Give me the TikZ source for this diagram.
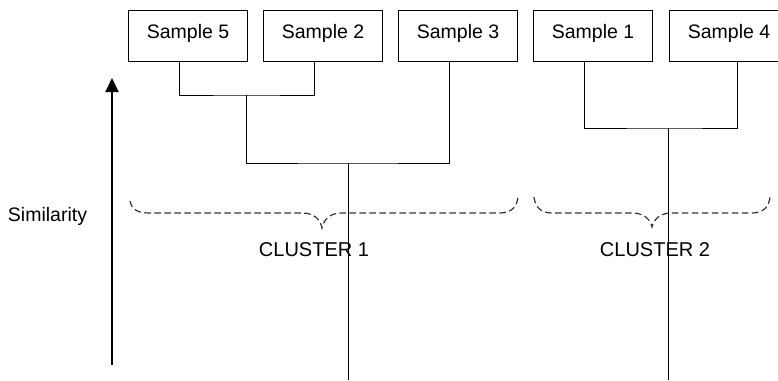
\documentclass[tikz,border=0pt]{standalone}
\usepackage{fontspec}
\setmainfont{Liberation Sans}
\usetikzlibrary{arrows.meta}
\begin{document}
\begin{tikzpicture}[x=1pt,y=-1pt,
  samplebox/.style={draw=black, line width=1.1pt, anchor=north west, minimum width=119pt,
    inner xsep=0pt, inner ysep=0pt, text height=28pt, text depth=23pt,
    font=\fontsize{19.5}{23}\selectfont},
  link/.style={draw=black, line width=1pt},
  bracepath/.style={draw=black!80, line width=1.2pt, dash pattern=on 6.5pt off 3.5pt},
  cluster/.style={anchor=base, font=\fontsize{20}{24}\selectfont, inner sep=0pt},
  axislabel/.style={anchor=base, font=\fontsize{19.5}{23}\selectfont, inner sep=0pt}]
\useasboundingbox (0,0) rectangle (778,380);
\clip (0,0) rectangle (778,380);
\fill[white] (0,0) rectangle (778,380);
% sample boxes
\node[samplebox] (s5) at (128,10) {Sample 5};
\node[samplebox] (s2) at (263,10) {Sample 2};
\node[samplebox] (s3) at (398,10) {Sample 3};
\node[samplebox] (s1) at (533,10) {Sample 1};
\node[samplebox] (s4) at (669,10) {Sample 4};
% junction coordinates
\coordinate (j1) at (246.5,95);
\coordinate (j2) at (348,163);
\coordinate (j3) at (668,128);
\coordinate (b1) at (348,380);
\coordinate (b2) at (668,380);
% dendrogram links
\draw[link] ([xshift=51]s5.south west) |- (j1) -| ([xshift=51]s2.south west);
\draw[link] (j1) |- (j2) -| ([xshift=51]s3.south west);
\draw[link] (j2) -- (b1);
\draw[link] ([xshift=51]s1.south west) |- (j3) -| ([xshift=68]s4.south west);
\draw[link] (j3) -- (b2);
% similarity axis
\coordinate (arrA) at (112,365);
\coordinate (arrB) at (112,78);
\draw[line width=2pt, -{Triangle[length=14pt,width=13pt]}] (arrA) -- (arrB);
\node[axislabel] (sim) at (47.5,221) {Similarity};
% braces
\draw[bracepath] (130,201) .. controls (132,210) and (138,213) .. (150,213) -- (302,213)
  .. controls (314,213) and (320,219) .. (322,228)
  .. controls (324,219) and (330,213) .. (342,213) -- (500,213)
  .. controls (512,213) and (517,206) .. (518,197);
\draw[bracepath] (534,197) .. controls (535,206) and (540,213) .. (552,213) -- (632,213)
  .. controls (644,213) and (650,219) .. (652,227)
  .. controls (654,219) and (660,213) .. (672,213) -- (752,213)
  .. controls (764,213) and (769,206) .. (770,197);
\node[cluster] (c1) at (314,256) {CLUSTER 1};
\node[cluster] (c2) at (655,256) {CLUSTER 2};
\end{tikzpicture}
\end{document}
